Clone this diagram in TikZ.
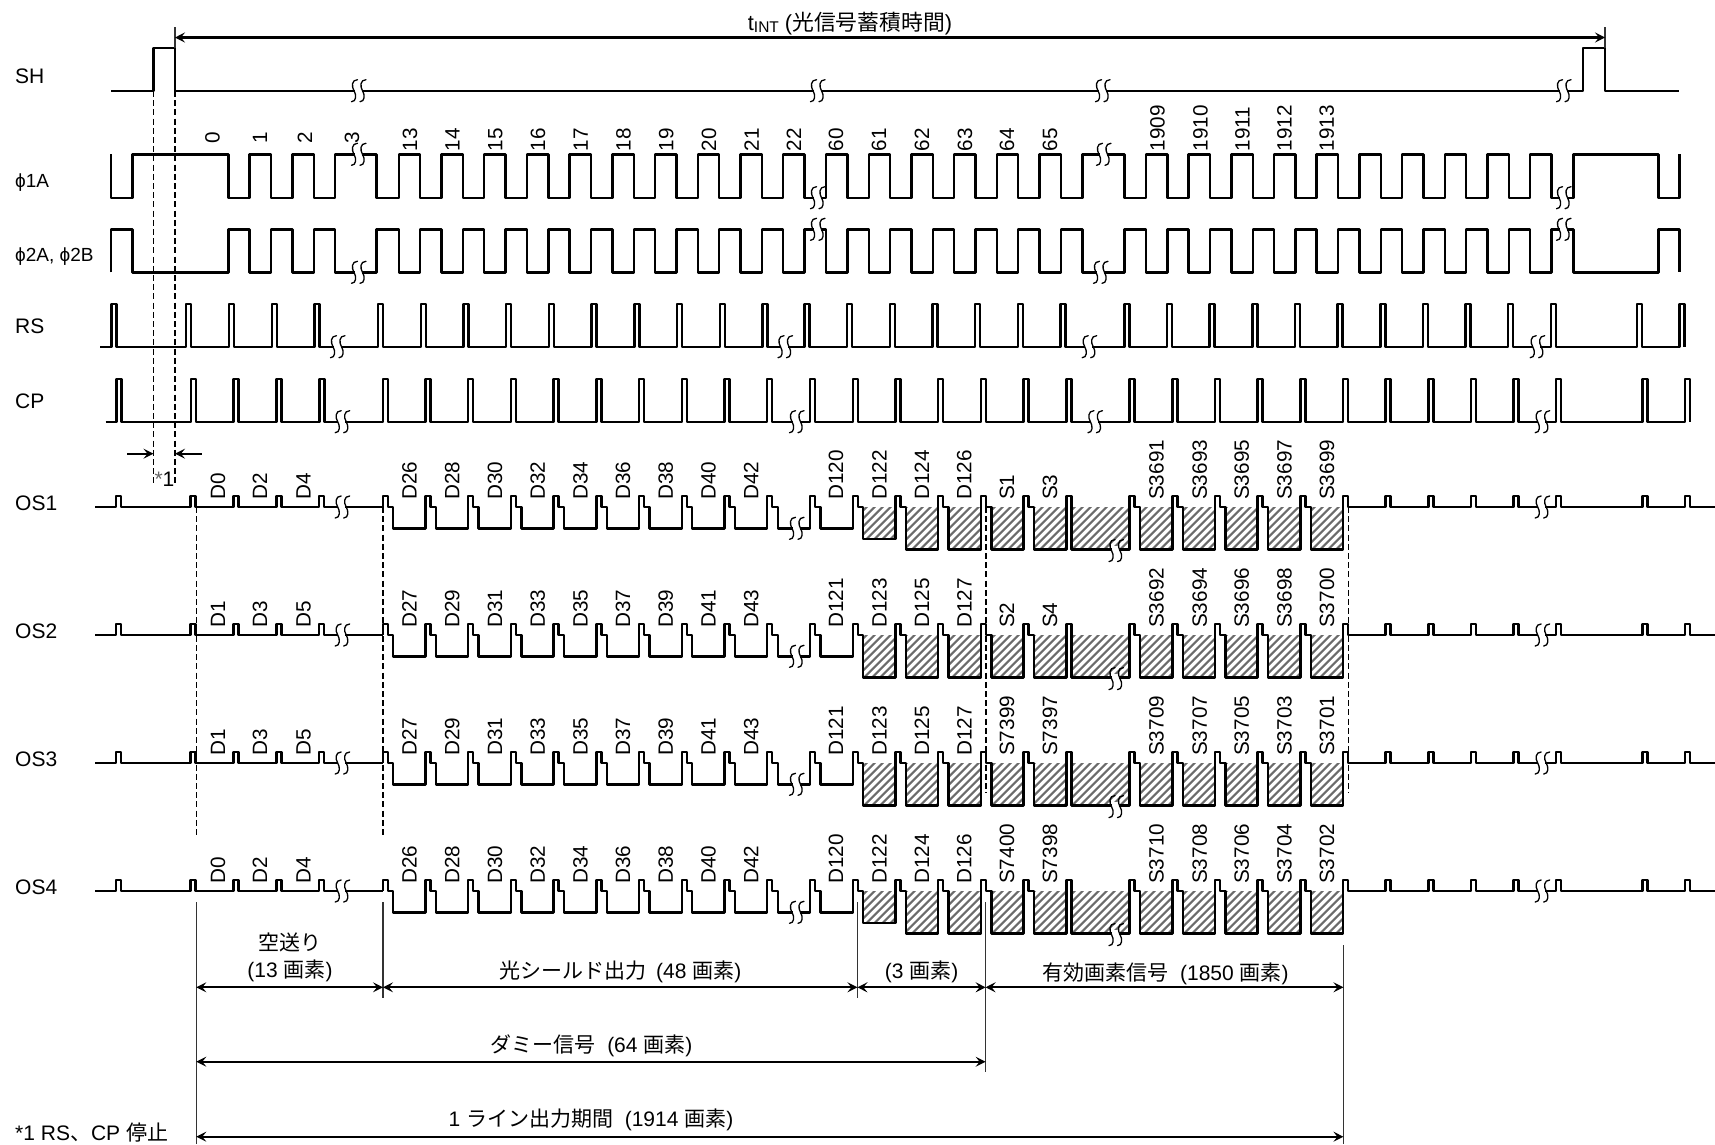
\documentclass[tikz,border=0pt]{standalone}
\usepackage{fontspec}
\usepackage{pgfmath}
\setmainfont{Liberation Sans}
\newfontfamily\cjk{Noto Sans CJK JP}
\usetikzlibrary{arrows.meta}
\tikzset{
  wave/.style={line width=2.4pt,line join=round,line cap=butt},
  guide/.style={line width=1.1pt,dash pattern=on 6pt off 3.2pt},
  solidguide/.style={line width=1.1pt,black!80},
  dim/.style={line width=2.3pt,{Stealth[length=10pt,width=10pt,inset=4pt]}-{Stealth[length=10pt,width=10pt,inset=4pt]}},
  dimr/.style={line width=2.3pt,-{Stealth[length=10pt,width=10pt,inset=4pt]}},
  rowlbl/.style={anchor=west,inner sep=0pt,font=\fontsize{21}{21}\selectfont},
  philbl/.style={anchor=west,inner sep=0pt,font=\fontsize{19}{20}\selectfont},
  tick/.style={anchor=west,rotate=90,inner sep=0pt,font=\fontsize{20.7}{21}\selectfont},
  txt/.style={inner sep=0pt,font=\fontsize{21}{23}\selectfont},
  brkline/.style={line width=1.3pt,black,line cap=round},
}
% break mark: two S strokes with white between them
\newcommand{\brk}[2]{%
  \fill[white] (#1-3.5,#2-5) rectangle (#1+3.5,#2+5);
  \foreach \dx in {-5,3.5}{
    \draw[brkline] (#1+\dx+4.5,#2-11) .. controls (#1+\dx-1.5,#2-11) and (#1+\dx-1.5,#2-4) .. (#1+\dx+1,#2)
      .. controls (#1+\dx+3.5,#2+4) and (#1+\dx+3.5,#2+11) .. (#1+\dx-1.5,#2+11);
  }}
% OS channel: baseline y = #1, depth of first hatched column = #2
\newcommand{\oschannel}[2]{%
  \def\yb{#1}\pgfmathsetmacro\yt{#1-11}\pgfmathsetmacro\yl{#1+21.3}\pgfmathsetmacro\yd{#1+42.6}\pgfmathsetmacro\yf{#1+#2}%
  % hatching
  \begin{scope}
    \clip (863.2,\yb) rectangle (895.4,\yf) (905.9,\yb) rectangle (938.2,\yd) (948.6,\yb) rectangle (980.9,\yd)
      (991.4,\yb) rectangle (1023.6,\yd) (1034.1,\yb) rectangle (1066.3,\yd) (1071.3,\yb) rectangle (1129.6,\yd)
      (1140.1,\yb) rectangle (1172.3,\yd) (1182.8,\yb) rectangle (1214.9,\yd) (1225.4,\yb) rectangle (1257.6,\yd)
      (1268.1,\yb) rectangle (1300.3,\yd) (1310.8,\yb) rectangle (1342.9,\yd);
    \foreach \k in {0,...,75}{
      \draw[line width=2pt,black!58] ({800+\k*8},\yd) -- ({800+\k*8+50},{\yd-50});
    }
  \end{scope}
  \begin{scope}[wave]
  \draw (95,\yb) -- (116,\yb) -- (116,\yt) -- (121,\yt) -- (121,\yb) -- (190.6,\yb) -- (190.6,\yt) -- (195.6,\yt) -- (195.6,\yb)
     -- (233.4,\yb) -- (233.4,\yt) -- (238.4,\yt) -- (238.4,\yb) -- (276.3,\yb) -- (276.3,\yt) -- (281.3,\yt) -- (281.3,\yb)
     -- (319.2,\yb) -- (319.2,\yt) -- (324.2,\yt) -- (324.2,\yb) -- (382.7,\yb);
  % dark-signal zone
  \draw (382.7,\yb)
    \foreach \c in {382.7,425.42,468.14,510.86,553.58,596.3,639.02,681.74,724.46}{
      -- (\c,\yb) -- (\c,\yt) -- ({\c+5},\yt) -- ({\c+5},\yb) -- ({\c+10.5},\yb) -- ({\c+10.5},\yl) -- ({\c+42.72},\yl)
    }
    -- (767.2,\yl) -- (767.2,\yt) -- (772.2,\yt) -- (772.2,\yb) -- (777.7,\yb) -- (777.7,\yl) -- (810,\yl)
    -- (810,\yt) -- (815,\yt) -- (815,\yb) -- (820.5,\yb) -- (820.5,\yl) -- (852.7,\yl)
    -- (852.7,\yt) -- (857.7,\yt) -- (857.7,\yb) -- (863.2,\yb) -- (863.2,\yf) -- (895.4,\yf)
    -- (895.4,\yt) -- (900.4,\yt) -- (900.4,\yb) -- (905.9,\yb) -- (905.9,\yd) -- (938.2,\yd)
    -- (938.2,\yt) -- (943.2,\yt) -- (943.2,\yb) -- (948.6,\yb) -- (948.6,\yd) -- (980.9,\yd)
    -- (980.9,\yt) -- (985.9,\yt) -- (985.9,\yb) -- (991.4,\yb) -- (991.4,\yd) -- (1023.6,\yd)
    -- (1023.6,\yt) -- (1028.6,\yt) -- (1028.6,\yb) -- (1034.1,\yb) -- (1034.1,\yd) -- (1066.3,\yd)
    -- (1066.3,\yt) -- (1071.3,\yt) -- (1071.3,\yd) -- (1129.6,\yd)
    -- (1129.6,\yt) -- (1134.6,\yt) -- (1134.6,\yb) -- (1140.1,\yb) -- (1140.1,\yd) -- (1172.3,\yd)
    -- (1172.3,\yt) -- (1177.3,\yt) -- (1177.3,\yb) -- (1182.8,\yb) -- (1182.8,\yd) -- (1214.9,\yd)
    -- (1214.9,\yt) -- (1219.9,\yt) -- (1219.9,\yb) -- (1225.4,\yb) -- (1225.4,\yd) -- (1257.6,\yd)
    -- (1257.6,\yt) -- (1262.6,\yt) -- (1262.6,\yb) -- (1268.1,\yb) -- (1268.1,\yd) -- (1300.3,\yd)
    -- (1300.3,\yt) -- (1305.3,\yt) -- (1305.3,\yb) -- (1310.8,\yb) -- (1310.8,\yd) -- (1342.9,\yd)
    -- (1342.9,\yt) -- (1347.9,\yt) -- (1347.9,\yb) -- (1353.4,\yb)
    \foreach \c in {1385.6,1428.3,1471,1513.6,1556,1642.3,1685}{
      -- (\c,\yb) -- (\c,\yt) -- ({\c+5},\yt) -- ({\c+5},\yb)
    }
    -- (1715,\yb);
  \end{scope}
  \brk{341.7}{\yb}
  \brk{796}{\yl}
  \brk{1115.5}{\yd+1}
  \brk{1541.7}{\yb}
}
\begin{document}
\begin{tikzpicture}[x=1pt,y=-1pt]
\useasboundingbox (0,0) rectangle (1715,1144);
% guides
\coordinate (shr) at (153.5,91); \coordinate (shf) at (175,91);
\coordinate (shrb) at (153.5,485); \coordinate (shfb) at (175,485);
\draw[guide] (shr) -- (shrb); \draw[guide] (shf) -- (shfb);
\coordinate (a1t) at (196.3,507); \coordinate (a1b) at (196.3,838);
\coordinate (a2t) at (383,507); \coordinate (a2b) at (383,838);
\coordinate (a3t) at (986,507); \coordinate (a3b) at (986,793);
\coordinate (a4t) at (1348.7,507); \coordinate (a4b) at (1348.7,793);
\draw[guide] (a1t) -- (a1b); \draw[guide] (a2t) -- (a2b);
\draw[guide] (a3t) -- (a3b); \draw[guide] (a4t) -- (a4b);
% SH
\draw[wave] (111,90.7) -- (153.5,90.7) -- (153.5,48) -- (175,48) -- (175,90.7) -- (1583,90.7) -- (1583,48) -- (1605,48) -- (1605,90.7) -- (1679,90.7);
\coordinate (tl) at (175,27); \coordinate (tlb) at (175,48);
\coordinate (tr) at (1605,27); \coordinate (trb) at (1605,48);
\draw[solidguide] (tl) -- (tlb); \draw[solidguide] (tr) -- (trb);
\draw[dim] (175,37.5) -- (1605,37.5);
\brk{358}{90.7}\brk{817}{90.7}\brk{1102}{90.7}\brk{1563}{90.7}
% phi1A (yh=154.3, yl=197.7)  phi2 (yh=229.3, yl=272.3)
\draw[wave] (111,154.3) -- (111,197.7) -- (132.4,197.7) -- (132.4,154.3) -- (228.5,154.3) -- (228.5,197.7)
  \foreach \r in {249.5,292.4}{ -- (\r,197.7) -- (\r,154.3) -- ({\r+21.4},154.3) -- ({\r+21.4},197.7) }
  -- (335.2,197.7) -- (335.2,154.3) -- (376.6,154.3) -- (376.6,197.7)
  \foreach \k in {0,...,9}{ -- ({398.8+\k*42.72},197.7) -- ({398.8+\k*42.72},154.3) -- ({398.8+\k*42.72+21.4},154.3) -- ({398.8+\k*42.72+21.4},197.7) }
  -- (826,197.7)
  \foreach \k in {0,...,5}{ -- ({826+\k*42.72},197.7) -- ({826+\k*42.72},154.3) -- ({826+\k*42.72+21.4},154.3) -- ({826+\k*42.72+21.4},197.7) }
  -- (1082.3,197.7) -- (1082.3,154.3) -- (1124.3,154.3) -- (1124.3,197.7)
  \foreach \k in {0,...,9}{ -- ({1146+\k*42.67},197.7) -- ({1146+\k*42.67},154.3) -- ({1146+\k*42.67+21.4},154.3) -- ({1146+\k*42.67+21.4},197.7) }
  -- (1573.3,197.7) -- (1573.3,154.3) -- (1658.3,154.3) -- (1658.3,197.7) -- (1679.3,197.7) -- (1679.3,154.3);
\draw[wave] (111,272.3) -- (111,229.3) -- (132.4,229.3) -- (132.4,272.3) -- (228.5,272.3) -- (228.5,229.3)
  \foreach \r in {249.5,292.4}{ -- (\r,229.3) -- (\r,272.3) -- ({\r+21.4},272.3) -- ({\r+21.4},229.3) }
  -- (335.2,229.3) -- (335.2,272.3) -- (376.6,272.3) -- (376.6,229.3)
  \foreach \k in {0,...,9}{ -- ({398.8+\k*42.72},229.3) -- ({398.8+\k*42.72},272.3) -- ({398.8+\k*42.72+21.4},272.3) -- ({398.8+\k*42.72+21.4},229.3) }
  -- (826,229.3)
  \foreach \k in {0,...,5}{ -- ({826+\k*42.72},229.3) -- ({826+\k*42.72},272.3) -- ({826+\k*42.72+21.4},272.3) -- ({826+\k*42.72+21.4},229.3) }
  -- (1082.3,229.3) -- (1082.3,272.3) -- (1124.3,272.3) -- (1124.3,229.3)
  \foreach \k in {0,...,9}{ -- ({1146+\k*42.67},229.3) -- ({1146+\k*42.67},272.3) -- ({1146+\k*42.67+21.4},272.3) -- ({1146+\k*42.67+21.4},229.3) }
  -- (1573.3,229.3) -- (1573.3,272.3) -- (1658.3,272.3) -- (1658.3,229.3) -- (1679.3,229.3) -- (1679.3,272.3);
\brk{358}{154.3}\brk{817}{197.7}\brk{1103}{154.3}\brk{1563}{197.7}
\brk{358}{272.3}\brk{817}{229.3}\brk{1100}{272.3}\brk{1563}{229.3}
% RS
\draw[wave] (100.3,346.7)
  \foreach \p in {111.4,186,228.8,271.7,314.6,378,420.72,463.44,506.16,548.88,591.6,634.32,677.04,719.76,762.48,804.3,847,889.7,932.4,975.2,1017.9,1060.6,1124.3,1167,1209.6,1252.3,1295,1337.6,1380.3,1423,1465.6,1508,1550.7,1636.7,1679.3}{
    -- (\p,346.7) -- (\p,304) -- ({\p+5},304) -- ({\p+5},346.7) };
\brk{337}{346.7}\brk{784.5}{346.7}\brk{1088.7}{346.7}\brk{1536.7}{346.7}
% CP
\draw[wave] (105.6,421.7)
  \foreach \p in {116.4,190.8,233.6,276.5,319.4,382.7,425.42,468.14,510.86,553.58,596.3,639.02,681.74,724.46,767.2,810,852.7,895.4,938.2,980.9,1023.6,1066.3,1129.6,1172.3,1214.9,1257.6,1300.3,1342.9,1385.6,1428.3,1471,1513.6,1556,1642.3,1685}{
    -- (\p,421.7) -- (\p,379) -- ({\p+5},379) -- ({\p+5},421.7) };
\brk{341.7}{421.7}\brk{796}{421.7}\brk{1094.4}{421.7}\brk{1541.7}{421.7}
% OS channels
\oschannel{507}{31.7}
\oschannel{635}{42.6}
\oschannel{763}{42.6}
\oschannel{891}{31.7}
% row labels
\node[rowlbl] (lsh) at (15,76) {SH};
\node[philbl] (lp1) at (15,182.5) {ϕ1A};
\node[philbl] (lp2) at (15,257) {ϕ2A, ϕ2B};
\node[rowlbl] (lrs) at (15,326.5) {RS};
\node[rowlbl] (lcp) at (15,401) {CP};
\node[rowlbl] (los1) at (15,503) {OS1};
\node[rowlbl] (los2) at (15,631) {OS2};
\node[rowlbl] (los3) at (15,759) {OS3};
\node[rowlbl] (los4) at (15,887) {OS4};
% clock numbers
\foreach \x/\t in {212.4/0,260/1,305/2,352/3}{ \node[tick] at (\x,143.5) {\t}; }
\foreach \x/\t in {410/13,452.6/14,495.4/15,538.1/16,580.8/17,623.5/18,666.2/19,709/20,751.7/21,794/22,836/60,879/61,922/62,965/63,1007/64,1050/65,1157.6/1909,1200.5/1910,1242.5/1911,1284.6/1912,1326.7/1913}{ \node[tick] at (\x,151.5) {\t}; }
% OS labels
\foreach \y/\a/\b/\c/\dd in {500/0/2/4/26,628/1/3/5/27,756/1/3/5/27,884/0/2/4/26}{
  \node[tick] at (218,\y) {D\a};
  \node[tick] at (260,\y) {D\b};
  \node[tick] at (303.5,\y) {D\c};
  \foreach \k in {0,...,8}{
    \pgfmathtruncatemacro\n{\dd+2*\k}
    \node[tick] at ({409.5+\k*42.72},\y) {D\n};
  }
}
\foreach \y/\a/\b/\c/\dd/\e/\f/\g/\h/\i/\j/\l in {
  500/D120/D122/D124/D126/S1/S3/S3691/S3693/S3695/S3697/S3699,
  628/D121/D123/D125/D127/S2/S4/S3692/S3694/S3696/S3698/S3700,
  756/D121/D123/D125/D127/S7399/S7397/S3709/S3707/S3705/S3703/S3701,
  884/D120/D122/D124/D126/S7400/S7398/S3710/S3708/S3706/S3704/S3702}{
  \node[tick] at (836,\y) {\a};
  \node[tick] at (879.4,\y) {\b};
  \node[tick] at (922,\y) {\c};
  \node[tick] at (964.3,\y) {\dd};
  \node[tick] at (1007,\y) {\e};
  \node[tick] at (1050,\y) {\f};
  \node[tick] at (1156.4,\y) {\g};
  \node[tick] at (1199.7,\y) {\h};
  \node[tick] at (1241.8,\y) {\i};
  \node[tick] at (1284.6,\y) {\j};
  \node[tick] at (1327,\y) {\l};
}
% *1 marker
\coordinate (st1) at (127,453.7); \coordinate (st1e) at (153.5,453.7);
\coordinate (st2) at (201.7,453.7); \coordinate (st2e) at (175,453.7);
\draw[dimr] (st1) -- (st1e);
\draw[dimr] (st2) -- (st2e);
\node[txt] (star) at (164.5,479) {\textcolor{black!60}{*}1};
% solid extents
\coordinate (s1a) at (196.3,902); \coordinate (s1b) at (196.3,1144);
\coordinate (s2a) at (383,902); \coordinate (s2b) at (383,998);
\coordinate (s3a) at (857.4,902); \coordinate (s3b) at (857.4,998);
\coordinate (s4a) at (985.6,902); \coordinate (s4b) at (985.6,1072);
\coordinate (s5a) at (1343.4,945); \coordinate (s5b) at (1343.4,1144);
\draw[solidguide] (s1a) -- (s1b); \draw[solidguide] (s2a) -- (s2b); \draw[solidguide] (s3a) -- (s3b);
\draw[solidguide] (s4a) -- (s4b); \draw[solidguide] (s5a) -- (s5b);
% dimension arrows
\draw[dim] (196.3,987.3) -- (383,987.3);
\draw[dim] (383,987.3) -- (857.4,987.3);
\draw[dim] (857.4,987.3) -- (985.6,987.3);
\draw[dim] (985.6,987.3) -- (1343.4,987.3);
\draw[dim] (196.3,1061.7) -- (985.6,1061.7);
\draw[dim] (196.3,1136.7) -- (1343.4,1136.7);
% texts
\node[txt,font=\fontsize{21.8}{23}\selectfont] (tint) at (850,23.5) {t\raisebox{-2.5pt}{\fontsize{15.5}{15}\selectfont INT} ({\cjk 光信号蓄積時間})};
\node[txt] (d1) at (290,942.7) {{\cjk 空送り}};
\node[txt] (d2) at (290,971) {(13 {\cjk 画素})};
\node[txt] (d3) at (620.5,971.5) {{\cjk 光シールド出力} \,(48 {\cjk 画素})};
\node[txt] (d4) at (921.7,971.5) {(3 {\cjk 画素})};
\node[txt] (d5) at (1165.5,973.5) {{\cjk 有効画素信号}\ \ (1850 {\cjk 画素})};
\node[txt] (d6) at (591.5,1046) {{\cjk ダミー信号}\ \ (64 {\cjk 画素})};
\node[txt] (d7) at (591,1120) {1 {\cjk ライン出力期間}\ \ (1914 {\cjk 画素})};
\node[rowlbl] (d8) at (15,1133) {*1 RS{\cjk 、}CP {\cjk 停止}};
\end{tikzpicture}
\end{document}
